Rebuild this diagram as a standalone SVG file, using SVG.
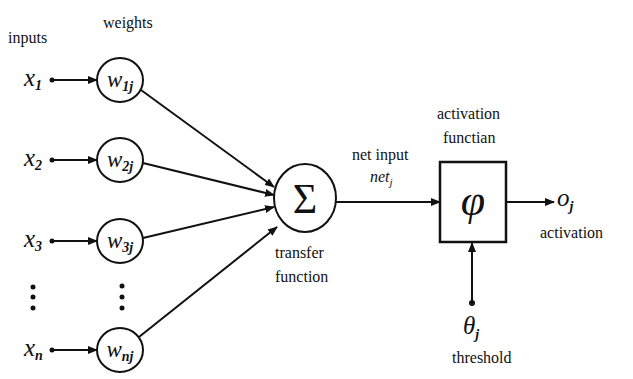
<svg xmlns="http://www.w3.org/2000/svg" width="633" height="379" viewBox="0 0 633 379">
<defs>
<marker id="arr" markerWidth="10" markerHeight="8" refX="9" refY="4" orient="auto" markerUnits="userSpaceOnUse">
<path d="M0,0 L10,4 L0,8 Z" fill="#111"/>
</marker>
<style>
text{font-family:"Liberation Serif","DejaVu Serif",serif;fill:#111}
.lbl{font-size:16px}
.var{font-style:italic;font-size:25px}
.wv{font-style:italic;font-size:23px}
.sub{font-size:14px;font-weight:bold}
.node{fill:#fff;stroke:#111;stroke-width:2}
.edge{stroke:#111;stroke-width:2;fill:none;marker-end:url(#arr)}
.dot{fill:#111}
</style>
</defs>
<rect width="633" height="379" fill="#fff"/>

<g id="labels" font-family="Liberation Serif, DejaVu Serif, serif">
<text class="lbl" x="8" y="43">inputs</text>
<text class="lbl" x="103" y="28">weights</text>
<text class="lbl" x="352" y="160">net input</text>
<text x="370" y="182" font-style="italic" font-size="16">net<tspan font-size="11" dy="4">j</tspan></text>
<text class="lbl" x="275" y="258">transfer</text>
<text class="lbl" x="275" y="282">function</text>
<text class="lbl" x="437" y="119">activation</text>
<text class="lbl" x="443" y="143">functian</text>
<text class="lbl" x="540" y="238">activation</text>
<text class="lbl" x="452" y="363">threshold</text>
</g>

<g id="inputs" font-family="Liberation Serif, DejaVu Serif, serif">
<text class="var" x="24" y="86">x<tspan class="sub" dy="4">1</tspan></text>
<text class="var" x="24" y="166">x<tspan class="sub" dy="4">2</tspan></text>
<text class="var" x="24" y="247">x<tspan class="sub" dy="4">3</tspan></text>
<text class="var" x="24" y="356">x<tspan class="sub" dy="4">n</tspan></text>
<circle class="dot" cx="33" cy="287" r="2.5"/>
<circle class="dot" cx="33" cy="297" r="2.5"/>
<circle class="dot" cx="33" cy="308" r="2.5"/>
</g>

<g id="w1j">
<ellipse class="node" cx="120" cy="80" rx="23" ry="22"/>
<text class="wv" x="120" y="87" text-anchor="middle">w<tspan class="sub" dy="4">1j</tspan></text>
</g>
<g id="w2j">
<ellipse class="node" cx="120" cy="160" rx="23" ry="22"/>
<text class="wv" x="120" y="167" text-anchor="middle">w<tspan class="sub" dy="4">2j</tspan></text>
</g>
<g id="w3j">
<ellipse class="node" cx="120" cy="241" rx="23" ry="22"/>
<text class="wv" x="120" y="248" text-anchor="middle">w<tspan class="sub" dy="4">3j</tspan></text>
</g>
<g id="wdots">
<circle class="dot" cx="122" cy="286" r="2.5"/>
<circle class="dot" cx="122" cy="297" r="2.5"/>
<circle class="dot" cx="122" cy="308" r="2.5"/>
</g>
<g id="wnj">
<ellipse class="node" cx="120" cy="350" rx="23" ry="22"/>
<text class="wv" x="120" y="357" text-anchor="middle">w<tspan class="sub" dy="4">nj</tspan></text>
</g>

<g id="sum">
<ellipse class="node" cx="305" cy="198" rx="31" ry="34"/>
<text x="305" y="213" text-anchor="middle" font-size="42">Σ</text>
</g>

<g id="activation">
<rect x="440" y="162" width="66" height="80" fill="#fff" stroke="#111" stroke-width="2.5"/>
<text x="473" y="215" text-anchor="middle" font-style="italic" font-size="44">φ</text>
</g>

<g id="output">
<text class="var" x="557" y="206">o<tspan class="sub" dy="5">j</tspan></text>
</g>

<g id="threshold">
<circle class="dot" cx="472" cy="303" r="3"/>
<text class="var" x="463" y="334" font-size="27">θ<tspan class="sub" dy="5">j</tspan></text>
</g>

<g id="connectors">
<circle class="dot" cx="52" cy="80" r="2.5"/>
<line class="edge" x1="52" y1="80" x2="97" y2="80"/>
<circle class="dot" cx="52" cy="160" r="2.5"/>
<line class="edge" x1="52" y1="160" x2="97" y2="160"/>
<circle class="dot" cx="52" cy="241" r="2.5"/>
<line class="edge" x1="52" y1="241" x2="97" y2="241"/>
<circle class="dot" cx="52" cy="350" r="2.5"/>
<line class="edge" x1="52" y1="350" x2="97" y2="350"/>
<line class="edge" x1="141" y1="90" x2="274" y2="187"/>
<line class="edge" x1="143" y1="163" x2="274" y2="195"/>
<line class="edge" x1="143" y1="238" x2="274" y2="207"/>
<line class="edge" x1="139" y1="337" x2="277" y2="227"/>
<line class="edge" x1="336" y1="202" x2="440" y2="202"/>
<line class="edge" x1="506" y1="202" x2="554" y2="202"/>
<line class="edge" x1="472" y1="303" x2="472" y2="243"/>
</g>
</svg>
